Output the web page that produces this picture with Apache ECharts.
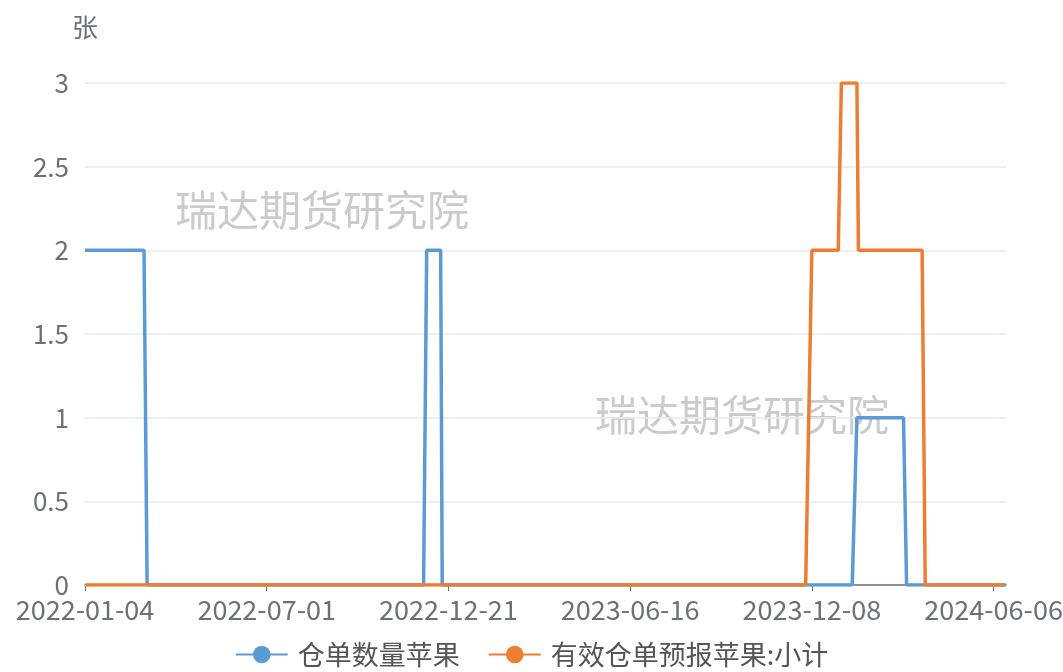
<!DOCTYPE html>
<html>
<head>
<meta charset="utf-8">
<script src="https://cdn.jsdelivr.net/npm/echarts@6/dist/echarts.min.js"></script>
<style>html,body{margin:0;padding:0;background:#fff}#main{width:1063px;height:672px}</style>
</head>
<body>
<div id="main"></div>
<script>
// ---- data ----
const startDate = '2022-01-04';
const endDate = '2024-06-19';
// exchange closures on weekdays (Chinese holidays)
const holidays = [
  '2022-01-31','2022-02-01','2022-02-02','2022-02-03','2022-02-04','2022-04-04','2022-04-05',
  '2022-05-02','2022-05-03','2022-05-04','2022-06-03','2022-09-12',
  '2022-10-03','2022-10-04','2022-10-05','2022-10-06','2022-10-07',
  '2023-01-02','2023-01-23','2023-01-24','2023-01-25','2023-01-26','2023-01-27','2023-04-05',
  '2023-05-01','2023-05-02','2023-05-03','2023-06-22','2023-06-23','2023-09-29',
  '2023-10-02','2023-10-03','2023-10-04','2023-10-05','2023-10-06',
  '2024-01-01','2024-02-09','2024-02-12','2024-02-13','2024-02-14','2024-02-15','2024-02-16',
  '2024-04-04','2024-04-05','2024-05-01','2024-05-02','2024-05-03','2024-06-10'
];
const seriesNames = ['仓单数量苹果', '有效仓单预报苹果:小计'];
// values read at change points (date, value)
const blueDates  = ['2022-01-04','2022-03-04','2022-03-08','2022-11-29','2022-12-01','2022-12-14','2022-12-15','2024-01-16','2024-01-19','2024-03-11','2024-03-13','2024-06-19'];
const blueValues = [2, 2, 0, 0, 2, 2, 0, 0, 1, 1, 0, 0];
const orangeDates  = ['2022-01-04','2023-12-04','2023-12-08','2024-01-03','2024-01-05','2024-01-19','2024-01-22','2024-03-27','2024-03-29','2024-06-18'];
const orangeValues = [0, 0, 2, 2, 3, 3, 2, 2, 0, 0];
const yTicks = [0, 0.5, 1, 1.5, 2, 2.5, 3];
const unitName = '张';
const watermark = '瑞达期货研究院';

// ---- trading-day categories ----
function fmt(d){const m=d.getUTCMonth()+1, dd=d.getUTCDate();return d.getUTCFullYear()+'-'+(m<10?'0':'')+m+'-'+(dd<10?'0':'')+dd;}
const hol = new Set(holidays);
const categories = [];
for (let d = new Date(startDate+'T00:00:00Z'); fmt(d) <= endDate; d.setUTCDate(d.getUTCDate()+1)) {
  const wd = d.getUTCDay();
  const s = fmt(d);
  if (wd !== 0 && wd !== 6 && !hol.has(s)) categories.push(s);
}
function build(dates, values){
  const arr = new Array(categories.length).fill(null);
  dates.forEach((dt,i)=>{const k=categories.indexOf(dt); if(k>=0) arr[k]=values[i];});
  return arr;
}

const FONT = "'Noto Sans CJK SC', 'Noto Sans', sans-serif";
const chart = echarts.init(document.getElementById('main'));
chart.setOption({
  animation: false,
  color: ['#5b9bd5', '#ed7d31'],
  grid: { left: 85, right: 57, top: 83, bottom: 87, containLabel: false, outerBoundsMode: 'none' },
  graphic: [
    { type: 'text', left: 175, top: 189, z: 0, style: { text: watermark, fontSize: 42, fill: '#cbcbcb', fontFamily: FONT } },
    { type: 'text', left: 595, top: 394, z: 0, style: { text: watermark, fontSize: 42, fill: '#cbcbcb', fontFamily: FONT } }
  ],
  legend: {
    bottom: -1, left: 'center',
    itemWidth: 52, itemHeight: 22, itemGap: 28,
    textStyle: { fontSize: 27, color: '#555', fontFamily: FONT, padding: [0, 0, 0, 5] }
  },
  xAxis: {
    type: 'category', boundaryGap: false, data: categories,
    axisLine: { lineStyle: { color: '#6e7079', width: 1.5 } },
    axisTick: { interval: 116, length: 6, lineStyle: { color: '#6e7079' } },
    axisLabel: { interval: 116, fontSize: 27, color: '#6e7079', margin: 11, fontFamily: FONT, hideOverlap: false },
    splitLine: { show: false }
  },
  yAxis: {
    type: 'value', min: 0, max: 3, interval: 0.5,
    name: unitName, nameLocation: 'end', nameGap: 43,
    nameTextStyle: { fontSize: 26, color: '#6e7079', fontFamily: FONT, align: 'center' },
    axisLine: { show: false }, axisTick: { show: false },
    axisLabel: { fontSize: 26, color: '#6e7079', margin: 16, fontFamily: FONT },
    splitLine: { lineStyle: { color: '#e6eaf2', width: 1.5 } }
  },
  series: [
    { name: seriesNames[0], type: 'line', data: build(blueDates, blueValues), connectNulls: true,
      showSymbol: false, symbol: 'circle', symbolSize: 16, z: 3, lineStyle: { width: 3.5 } },
    { name: seriesNames[1], type: 'line', data: build(orangeDates, orangeValues), connectNulls: true,
      showSymbol: false, symbol: 'circle', symbolSize: 16, z: 4, lineStyle: { width: 3.5 } }
  ]
});
</script>
</body>
</html>
